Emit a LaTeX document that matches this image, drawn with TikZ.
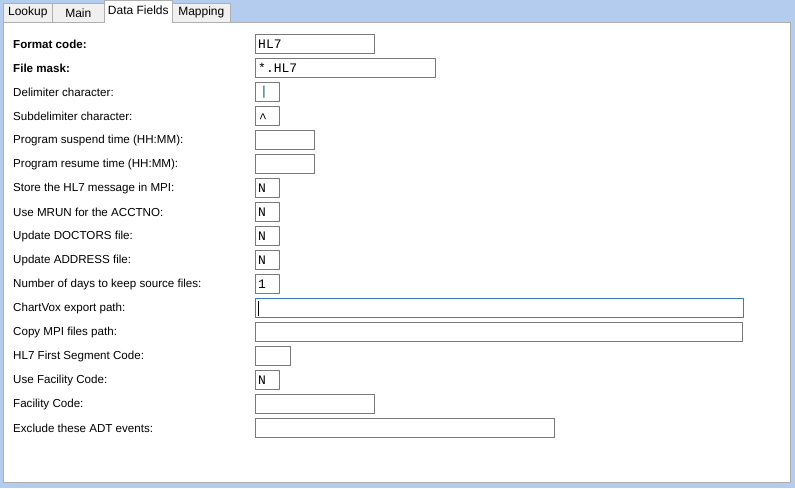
\documentclass[tikz,border=0pt]{standalone}
\usepackage{fontspec}
\setmainfont{Liberation Sans}
\newfontfamily\monof{Liberation Mono}
\definecolor{bgblue}{HTML}{B4CCEE}
\definecolor{tabgray}{HTML}{F0F0F0}
\definecolor{boxgray}{HTML}{7A7A7A}
\definecolor{focusblue}{HTML}{3C7FB1}
\begin{document}
\begin{tikzpicture}[x=1pt,y=-1pt,
  lbl/.style={anchor=west,inner sep=0pt,font=\fontsize{11.6}{13}\selectfont},
  blbl/.style={lbl,font=\fontsize{11.6}{13}\selectfont\bfseries},
  fld/.style={draw=boxgray,line width=0.8pt,fill=white,anchor=north west,inner sep=0pt,minimum height=19pt},
  val/.style={anchor=west,inner sep=0pt,font=\monof\fontsize{13}{14}\selectfont},
  tabb/.style={draw=boxgray!60,fill=tabgray,line width=0.6pt,anchor=north west,inner sep=0pt,minimum height=19pt,font=\fontsize{12}{13}\selectfont}]
\useasboundingbox (0,0) rectangle (795,488);
\fill[bgblue] (0,0) rectangle (795,488);
\draw[fill=white,draw=boxgray!60,line width=0.6pt] (3,22) rectangle (790,482);
\node[tabb,minimum width=49pt] (t1) at (3,3) {Lookup};
\node[tabb,minimum width=52pt] (t2) at (52,3) {Main};
\node[tabb,minimum width=58pt] (t4) at (172,3) {Mapping};
\node[tabb,fill=white,minimum width=68pt,minimum height=22pt,draw=boxgray!60] (t3) at (104,0) {\raisebox{2.5pt}{Data Fields}};
\fill[white] (104.5,21) rectangle (171.5,23);
% rows
\foreach \y/\t/\w [count=\i] in {
 92/Delimiter character:/24,
 116/Subdelimiter character:/24,
 140/Program suspend time (HH:MM):/59,
 164/Program resume time (HH:MM):/59,
 188/Store the HL7 message in MPI:/24,
 212/Use MRUN for the ACCTNO:/24,
 236/Update DOCTORS file:/24,
 260/Update ADDRESS file:/24,
 284/Number of days to keep source files:/24,
 308/ChartVox export path:/488,
 332/Copy MPI files path:/487,
 356/HL7 First Segment Code:/35,
 380/Use Facility Code:/24,
 404/Facility Code:/119,
 428/Exclude these ADT events:/299}
{
 \node[lbl] (l\i) at (13,\y) {\t};
 \node[fld,minimum width=\w pt] (f\i) at (255,\y-10) {};
}
\node[blbl] (lfc) at (13,44) {Format code:};
\node[fld,minimum width=119pt] (ffc) at (255,34) {};
\node[blbl] (lfm) at (13,68) {File mask:};
\node[fld,minimum width=180pt] (ffm) at (255,58) {};
\draw[focusblue,line width=0.9pt] (f10.north west) rectangle (f10.south east);
\draw[black,line width=0.6pt] (258.5,301) -- (258.5,316);
\node[val] at (258,44) {HL7};
\node[val] at (258,68) {*.HL7};
\node[val,text=teal!70!black] at (260,92) {|};
\node[val] at (259,118) {\^{}};
\foreach \y in {188,212,236,260,380} \node[val] at (258,\y) {N};
\node[val] at (258,284) {1};
\end{tikzpicture}
\end{document}
